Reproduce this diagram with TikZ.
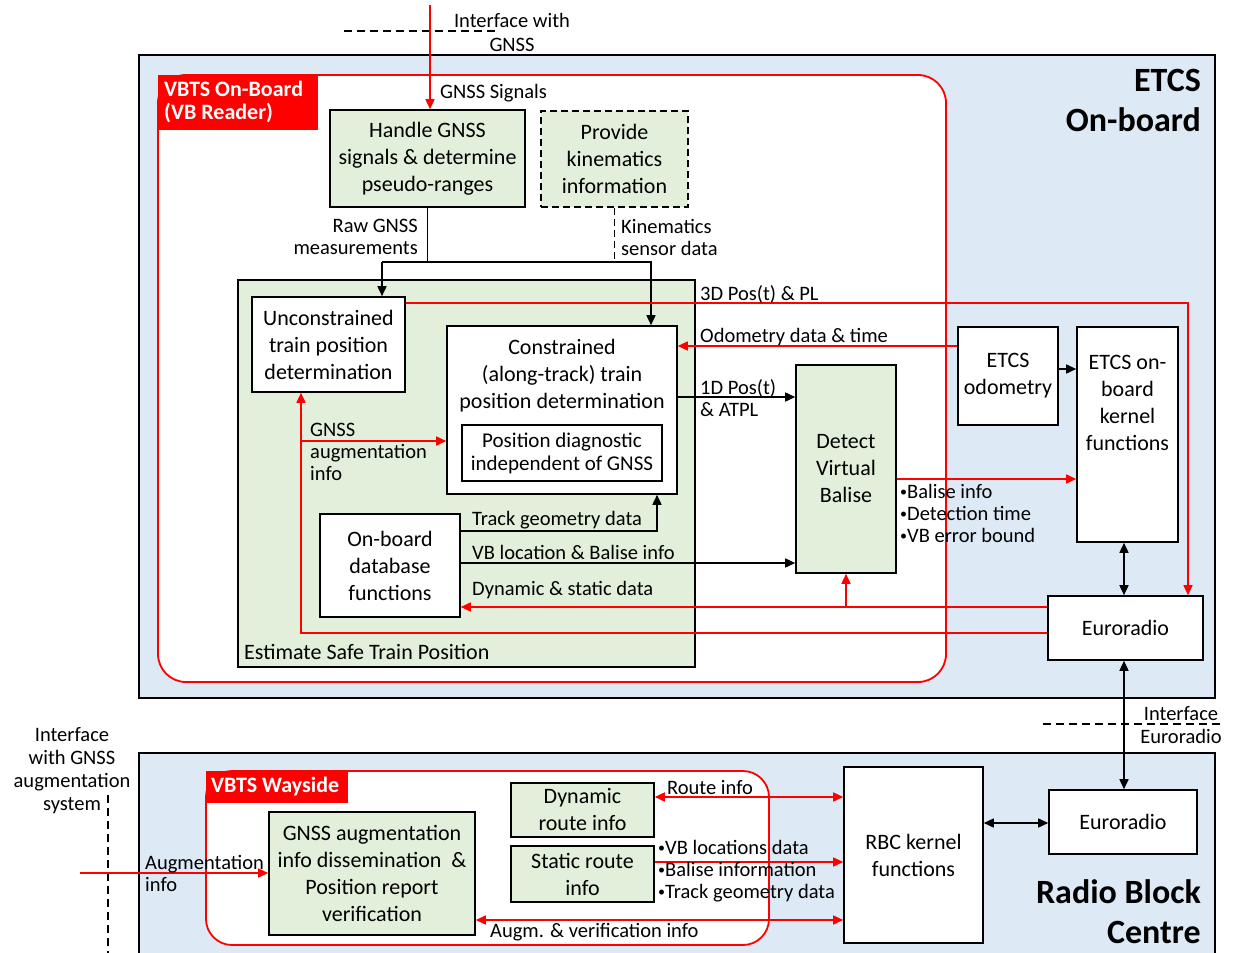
\documentclass[tikz,border=0pt]{standalone}
\usepackage{fontspec}
\setmainfont{Carlito}
\usetikzlibrary{arrows.meta}
\definecolor{panelblue}{RGB}{221,234,246}
\definecolor{gfill}{RGB}{226,239,218}
\definecolor{vred}{RGB}{255,0,0}
\newcommand{\fs}[2]{\fontsize{#1}{#2}\selectfont}
\newcommand{\bul}{\raisebox{2pt}{\fontsize{14}{14}\selectfont•}}
\tikzset{
  box/.style={draw, line width=1.6pt, inner sep=0pt, align=center, font=\fs{22}{27}},
  gbox/.style={box, fill=gfill},
  wbox/.style={box, fill=white},
  txt/.style={inner sep=0pt, align=center, font=\fs{22}{27}},
  lab/.style={inner sep=0pt, align=left, font=\fs{20.5}{22}},
  conn/.style={line width=1.6pt},
  arr/.style={conn, -{Triangle[length=10pt,width=9pt]}},
  darr/.style={conn, {Triangle[length=10pt,width=9pt]}-{Triangle[length=10pt,width=9pt]}},
  frame/.style={draw=vred, line width=1.8pt, fill=white, rounded corners=28pt},
  tag/.style={fill=vred, text=white, inner sep=0pt, align=left, font=\fs{22}{23}\bfseries},
  title/.style={inner sep=0pt, align=right, font=\fs{34}{40}\bfseries},
}
\begin{document}
\begin{tikzpicture}[x=1pt, y=-1pt]
\clip (0,0) rectangle (1243,953);
\fill[white] (0,0) rectangle (1243,953);

% ---- panels ----
\draw[fill=panelblue, line width=1.8pt] (139,55) rectangle (1215,698);
\draw[fill=panelblue, line width=1.8pt] (139,753) rectangle (1215,990);
\node[title, anchor=east] (tOnb) at (1201,100) {ETCS\\On-board};
\node[title, anchor=east] (tRbc) at (1201,912) {Radio Block\\Centre};

% ---- VBTS frames ----
\draw[frame] (158,75) rectangle (946,682);
\fill[vred] (158,75) rectangle (318,130);
\node[tag, anchor=west] (tagOnb) at (164,102) {VBTS On-Board\\(VB Reader)};
\draw[frame, rounded corners=26pt] (206,771) rectangle (769,945);
\fill[vred] (206,771) rectangle (348,803);
\node[tag, anchor=west] (tagWay) at (211,787) {VBTS Wayside};

% ---- interface lines ----
\draw[line width=1.6pt, dash pattern=on 8pt off 5pt] (344,31) -- (497,31);
\node[lab, align=center, font=\fs{20.5}{24}] (ifG) at (512,32) {Interface with\\GNSS};
\draw[line width=1.6pt, dash pattern=on 8pt off 5pt] (1043,724) -- (1222,724);
\node[lab, align=center, font=\fs{20.5}{23}] (ifE) at (1181,725) {Interface\\Euroradio};
\draw[line width=1.6pt, dash pattern=on 8pt off 5pt] (108,795) -- (108,953);
\node[lab, align=center, font=\fs{20.5}{23}] (ifA) at (72,771) {Interface\\with GNSS\\augmentation\\system};

% ---- on-board blocks ----
\node[gbox, minimum width=195pt, minimum height=97pt] (handle) at (427.5,158.5) {Handle GNSS\\signals \& determine\\pseudo-ranges};
\node[box, dash pattern=on 7pt off 4pt, fill=gfill, minimum width=147pt, minimum height=96pt] (kin) at (614.5,159) {Provide\\kinematics\\information};
\node[gbox, minimum width=457pt, minimum height=387pt] (est) at (466.5,473.5) {};
\node[lab, anchor=west, font=\fs{22}{22}] (estT) at (244,652) {Estimate Safe Train Position};
\node[wbox, minimum width=153pt, minimum height=95pt] (uncon) at (328.5,344.5) {Unconstrained\\train position\\determination};
\node[wbox, minimum width=230pt, minimum height=168pt] (con) at (562,410) {};
\node[txt] (conT) at (562,376) {Constrained\\(along-track) train\\position determination};
\node[wbox, minimum width=200pt, minimum height=56pt, font=\fs{21}{23}] (diag) at (562,453) {Position diagnostic\\independent of GNSS};
\node[wbox, minimum width=140pt, minimum height=103pt] (db) at (390,565.5) {On-board\\database\\functions};
\node[gbox, minimum width=100pt, minimum height=208pt] (dvb) at (846,469) {Detect\\Virtual\\Balise};
\node[wbox, minimum width=100pt, minimum height=98pt] (odo) at (1008,376) {ETCS\\odometry};
\node[wbox, minimum width=101pt, minimum height=215pt] (kern) at (1127.5,434.5) {};
\node[txt] (kernT) at (1127.5,402.5) {ETCS on-\\board\\kernel\\functions};
\node[wbox, minimum width=155pt, minimum height=64pt] (euro1) at (1125.5,628) {Euroradio};

% ---- wayside / RBC blocks ----
\node[gbox, minimum width=206pt, minimum height=123pt] (aug) at (372,873.5) {GNSS augmentation\\info dissemination~~\&\\Position report\\verification};
\node[gbox, minimum width=143pt, minimum height=54pt] (dyn) at (582.5,810) {Dynamic\\route info};
\node[gbox, minimum width=143pt, minimum height=56pt] (stat) at (582.5,874) {Static route\\info};
\node[wbox, minimum width=139pt, minimum height=176pt] (rbc) at (913.5,855) {RBC kernel\\functions};
\node[wbox, minimum width=148pt, minimum height=64pt] (euro2) at (1123,822) {Euroradio};

% ---- helper coordinates for routing ----
\coordinate (gtop) at (430,5);
\coordinate (bus) at (0,262);
\coordinate (rawx) at (382,0);
\coordinate (kinx) at (651,0);
\coordinate (y3d) at (0,303);
\coordinate (x3d) at (1188,0);
\coordinate (yodo) at (0,346);
\coordinate (y1d) at (0,397);
\coordinate (yok) at (0,369);
\coordinate (ybal) at (0,479);
\coordinate (xer) at (1124,0);
\coordinate (ydyn) at (0,607);
\coordinate (yaug) at (0,633);
\coordinate (xaug) at (301,0);
\coordinate (yaugc) at (0,441);
\coordinate (ytg) at (0,531);
\coordinate (xtg) at (657,0);
\coordinate (yvb) at (0,563);
\coordinate (yer2) at (0,823);
\coordinate (yroute) at (0,797);
\coordinate (ystat) at (0,862);
\coordinate (yav) at (0,920);
\coordinate (augsrc) at (80,873);

% ---- on-board connectors ----
\draw[arr, vred] (gtop) -- (gtop |- handle.north);
\draw[conn] (handle.south) -- (handle.south |- bus);
\draw[arr] (rawx |- bus) -- (rawx |- uncon.north);
\draw[arr] (rawx |- bus) -- (kinx |- bus) -- (kinx |- con.north);
\draw[conn, dash pattern=on 7pt off 4pt] (kin.south) -- (kin.south |- bus);
\draw[arr, vred] (uncon.east |- y3d) -| (x3d |- euro1.north);
\draw[arr, vred] (odo.west |- yodo) -- (con.east |- yodo);
\draw[arr] (con.east |- y1d) -- (dvb.west |- y1d);
\draw[arr] (odo.east |- yok) -- (kern.west |- yok);
\draw[arr, vred] (dvb.east |- ybal) -- (kern.west |- ybal);
\draw[darr] (xer |- kern.south) -- (xer |- euro1.north);
\draw[arr, vred] (euro1.west |- ydyn) -- (db.east |- ydyn);
\draw[arr, vred] (dvb.south |- ydyn) -- (dvb.south);
\draw[arr, vred] (euro1.west |- yaug) -| (xaug |- uncon.south);
\draw[arr, vred] (xaug |- yaugc) -- (con.west |- yaugc);
\draw[arr] (db.east |- ytg) -| (xtg |- con.south);
\draw[arr] (db.east |- yvb) -- (dvb.west |- yvb);
\draw[darr] (xer |- euro1.south) -- (xer |- euro2.north);

% ---- wayside connectors ----
\draw[darr] (rbc.east |- yer2) -- (euro2.west |- yer2);
\draw[darr, vred] (dyn.east |- yroute) -- (rbc.west |- yroute);
\draw[arr, vred] (stat.east |- ystat) -- (rbc.west |- ystat);
\draw[darr, vred] (aug.east |- yav) -- (rbc.west |- yav);
\draw[arr, vred] (augsrc) -- (aug.west |- augsrc);

% ---- connector labels ----
\node[lab, anchor=west] (lSig) at (440,93) {GNSS Signals};
\node[lab, anchor=east, align=right] (lRaw) at (418,237) {Raw GNSS\\measurements};
\node[lab, anchor=west] (lKin) at (621,237) {Kinematics\\sensor data};
\node[lab, anchor=west] (l3d) at (700,294) {3D Pos(t) \& PL};
\node[lab, anchor=west] (lOdo) at (700,337) {Odometry data \& time};
\node[lab, anchor=west] (l1d) at (700,398) {1D Pos(t)\\\& ATPL};
\node[lab, anchor=west] (lBal) at (900,513) {\bul Balise info\\\bul Detection time\\\bul VB error bound};
\node[lab, anchor=west] (lAug) at (310,452) {GNSS\\augmentation\\info};
\node[lab, anchor=west] (lTg) at (472,520) {Track geometry data};
\node[lab, anchor=west] (lVb) at (472,552) {VB location \& Balise info};
\node[lab, anchor=west] (lDs) at (472,590) {Dynamic \& static data};
\node[lab, anchor=west] (lAi) at (145,873) {Augmentation\\info};
\node[lab, anchor=west] (lRoute) at (667,788) {Route info};
\node[lab, anchor=west] (lStat) at (658,871) {\bul VB locations data\\\bul Balise information\\\bul Track geometry data};
\node[lab, anchor=west] (lAv) at (490,932) {Augm. \& verification info};
\end{tikzpicture}
\end{document}
